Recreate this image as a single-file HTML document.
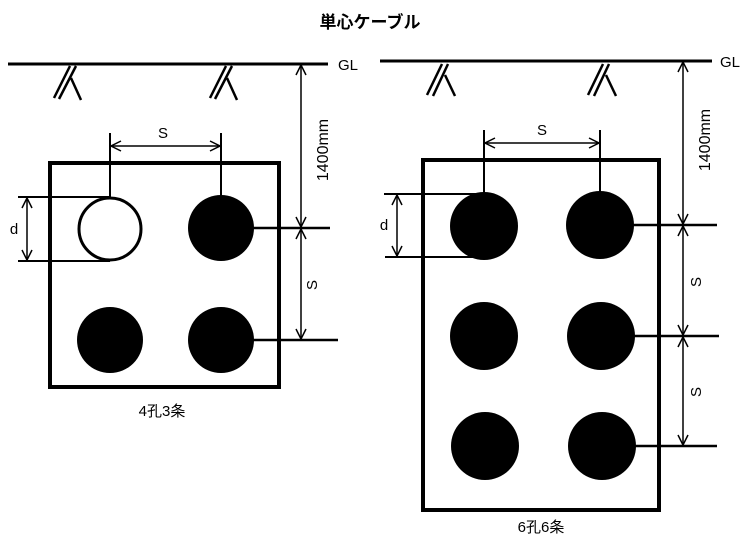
<!DOCTYPE html>
<html><head><meta charset="utf-8"><style>
html,body{margin:0;padding:0;background:#fff;}
svg{display:block;}
text{font-family:"Liberation Sans","Noto Sans CJK JP",sans-serif;fill:#000;}
</style></head><body>
<svg width="750" height="540" viewBox="0 0 750 540" xmlns="http://www.w3.org/2000/svg">
<defs>
<marker id="a" viewBox="0 0 12 12" refX="11" refY="6" markerWidth="12" markerHeight="12" markerUnits="userSpaceOnUse" orient="auto-start-reverse">
<path d="M1,1 L11,6 L1,11" fill="none" stroke="#000" stroke-width="1.5"/>
</marker>
</defs>
<text x="370" y="28" font-size="17" font-weight="bold" text-anchor="middle">単心ケーブル</text>

<!-- LEFT -->
<g stroke="#000" fill="none">
<line x1="8" y1="64" x2="328" y2="64" stroke-width="3"/>
<g stroke-width="2.5">
<line x1="54" y1="98" x2="70" y2="66"/><line x1="59" y1="99" x2="76" y2="66"/><line x1="71" y1="78" x2="81" y2="100"/>
<line x1="210" y1="98" x2="226" y2="66"/><line x1="215" y1="99" x2="232" y2="66"/><line x1="227" y1="78" x2="237" y2="100"/>
</g>
<rect x="50" y="163" width="229" height="224" stroke-width="4"/>
<line x1="110" y1="133" x2="110" y2="197" stroke-width="2"/>
<line x1="221" y1="133" x2="221" y2="197" stroke-width="2"/>
<line x1="111" y1="146" x2="220" y2="146" stroke-width="1.5" marker-start="url(#a)" marker-end="url(#a)"/>
<line x1="18" y1="197" x2="110" y2="197" stroke-width="2"/>
<line x1="18" y1="261" x2="110" y2="261" stroke-width="2"/>
<line x1="27" y1="198" x2="27" y2="260" stroke-width="1.5" marker-start="url(#a)" marker-end="url(#a)"/>
<line x1="250" y1="228" x2="330" y2="228" stroke-width="2.5"/>
<line x1="250" y1="340" x2="338" y2="340" stroke-width="2.5"/>
<line x1="301" y1="65" x2="301" y2="227" stroke-width="1.5" marker-start="url(#a)" marker-end="url(#a)"/>
<line x1="301" y1="229" x2="301" y2="339" stroke-width="1.5" marker-start="url(#a)" marker-end="url(#a)"/>
</g>
<circle cx="110" cy="229" r="31" fill="#fff" stroke="#000" stroke-width="3"/>
<circle cx="221" cy="228" r="33" fill="#000"/>
<circle cx="110" cy="340" r="33" fill="#000"/>
<circle cx="221" cy="340" r="33" fill="#000"/>
<text x="338" y="70" font-size="15">GL</text>
<text x="163" y="138" font-size="15" text-anchor="middle">S</text>
<text x="14" y="234" font-size="15" text-anchor="middle">d</text>
<text transform="translate(328,150) rotate(-90)" font-size="16" text-anchor="middle">1400mm</text>
<text transform="translate(317,285) rotate(-90)" font-size="15" text-anchor="middle">S</text>
<text x="162" y="416" font-size="15" text-anchor="middle">4孔3条</text>

<!-- RIGHT -->
<g stroke="#000" fill="none">
<line x1="380" y1="61" x2="712" y2="61" stroke-width="3"/>
<g stroke-width="2.5">
<line x1="427" y1="95" x2="442" y2="64"/><line x1="433" y1="96" x2="448" y2="64"/><line x1="445" y1="75" x2="455" y2="96"/>
<line x1="588" y1="95" x2="603" y2="64"/><line x1="594" y1="96" x2="609" y2="64"/><line x1="606" y1="75" x2="616" y2="96"/>
</g>
<rect x="423" y="160" width="236" height="350" stroke-width="4"/>
<line x1="484" y1="130" x2="484" y2="194" stroke-width="2"/>
<line x1="600" y1="130" x2="600" y2="194" stroke-width="2"/>
<line x1="485" y1="143" x2="599" y2="143" stroke-width="1.5" marker-start="url(#a)" marker-end="url(#a)"/>
<line x1="384" y1="194" x2="484" y2="194" stroke-width="2"/>
<line x1="385" y1="257" x2="484" y2="257" stroke-width="2"/>
<line x1="397" y1="195" x2="397" y2="256" stroke-width="1.5" marker-start="url(#a)" marker-end="url(#a)"/>
<line x1="630" y1="225" x2="717" y2="225" stroke-width="2.5"/>
<line x1="630" y1="336" x2="719" y2="336" stroke-width="2.5"/>
<line x1="630" y1="446" x2="717" y2="446" stroke-width="2.5"/>
<line x1="683" y1="62" x2="683" y2="224" stroke-width="1.5" marker-start="url(#a)" marker-end="url(#a)"/>
<line x1="683" y1="226" x2="683" y2="335" stroke-width="1.5" marker-start="url(#a)" marker-end="url(#a)"/>
<line x1="683" y1="337" x2="683" y2="445" stroke-width="1.5" marker-start="url(#a)" marker-end="url(#a)"/>
</g>
<circle cx="484" cy="226" r="34" fill="#000"/>
<circle cx="600" cy="225" r="34" fill="#000"/>
<circle cx="484" cy="336" r="34" fill="#000"/>
<circle cx="601" cy="336" r="34" fill="#000"/>
<circle cx="485" cy="446" r="34" fill="#000"/>
<circle cx="602" cy="446" r="34" fill="#000"/>
<text x="720" y="67" font-size="15">GL</text>
<text x="542" y="135" font-size="15" text-anchor="middle">S</text>
<text x="384" y="230" font-size="15" text-anchor="middle">d</text>
<text transform="translate(710,140) rotate(-90)" font-size="16" text-anchor="middle">1400mm</text>
<text transform="translate(701,282) rotate(-90)" font-size="15" text-anchor="middle">S</text>
<text transform="translate(701,392) rotate(-90)" font-size="15" text-anchor="middle">S</text>
<text x="541" y="532" font-size="15" text-anchor="middle">6孔6条</text>
</svg>
</body></html>
